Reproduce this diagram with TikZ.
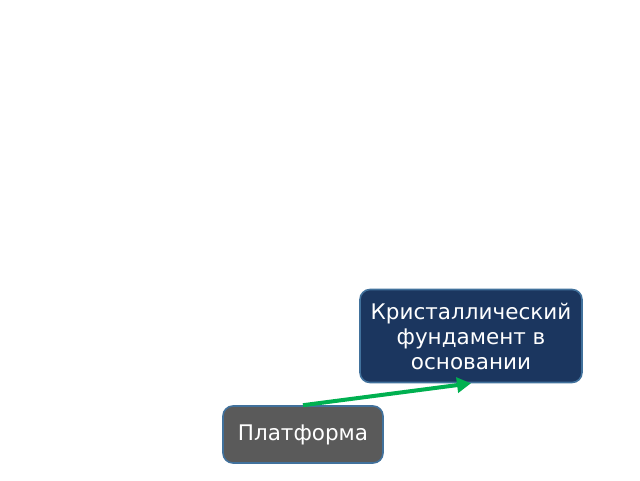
\documentclass[tikz,border=0pt]{standalone}
\usepackage{fontspec}
\setmainfont{DejaVu Sans}
\usetikzlibrary{arrows.meta}
\definecolor{navy}{HTML}{1B365F}
\definecolor{darkgrey}{HTML}{5A5A5A}
\definecolor{edgeblue}{HTML}{41719C}
\definecolor{arrowgreen}{HTML}{00B050}
\tikzset{
  box/.style={draw=edgeblue, line width=1.6pt, rounded corners=10pt, text=white,
    font=\fontsize{21.5}{25}\selectfont, align=center, inner sep=0pt},
  link/.style={draw=arrowgreen, line width=4pt, -{Triangle[length=14pt,width=15pt]}}
}
\begin{document}
\begin{tikzpicture}[x=1pt,y=-1pt]
\useasboundingbox (0,0) rectangle (640,480);
\node[box, fill=navy, minimum width=222pt, minimum height=93pt] (k) at (471,336)
  {Кристаллический\\фундамент в\\основании};
\node[box, fill=darkgrey, minimum width=160pt, minimum height=57pt] (p) at (303,434.5)
  {Платформа};
\draw[link] (p.north) -- (k.south);
\end{tikzpicture}
\end{document}
